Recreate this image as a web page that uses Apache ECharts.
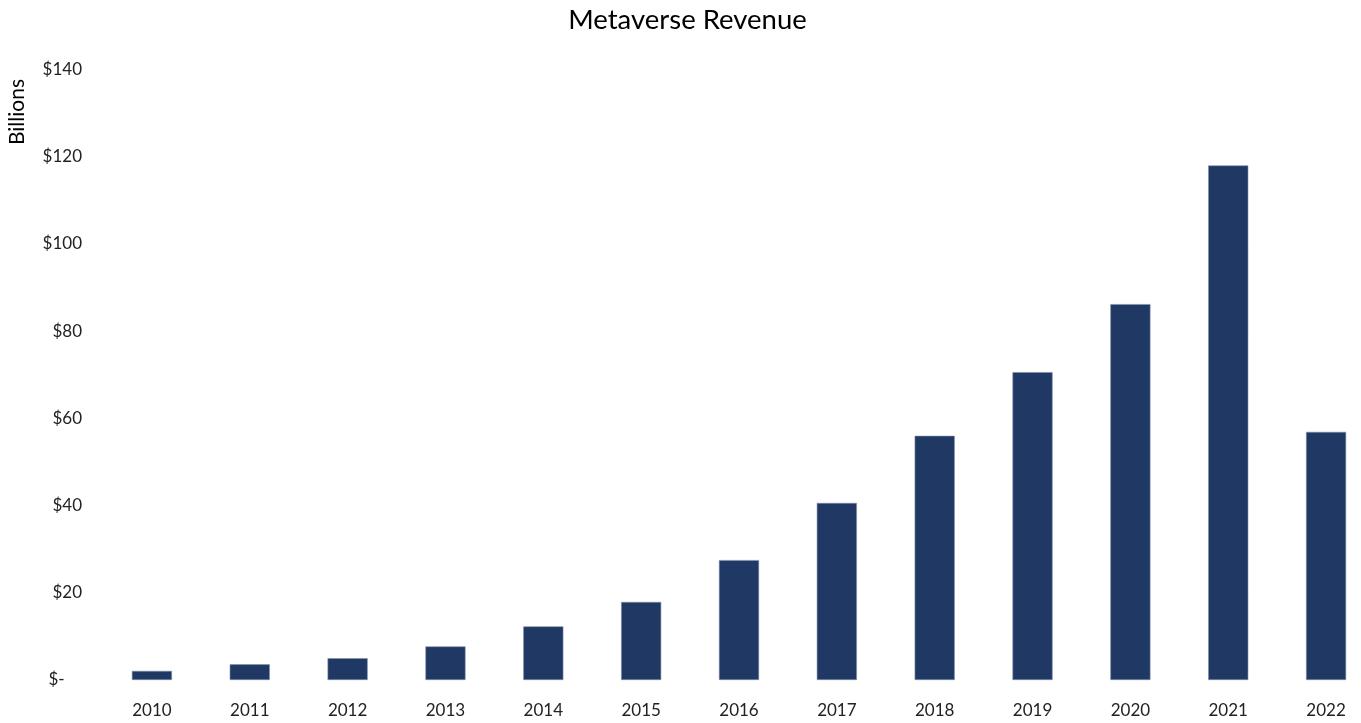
<!DOCTYPE html>
<html>
<head>
<meta charset="utf-8">
<script src="https://cdn.jsdelivr.net/npm/echarts@6/dist/echarts.min.js"></script>
<style>html,body{margin:0;padding:0;background:#fff;overflow:hidden}#c{width:1375px;height:723px}</style>
</head>
<body>
<div id="c"></div>
<script>
const years = ['2010','2011','2012','2013','2014','2015','2016','2017','2018','2019','2020','2021','2022'];
const revenue = [2.1, 3.6, 5.0, 7.7, 12.3, 17.9, 27.5, 40.6, 56.0, 70.6, 86.2, 118.0, 56.9];
const yTicks = { min: 0, max: 140, interval: 20 };
const titleText = 'Metaverse Revenue';
const unitText = 'Billions';

const chart = echarts.init(document.getElementById('c'), null, { renderer: 'canvas' });
const font = 'Lato, "Open Sans", sans-serif';
chart.setOption({
  animation: false,
  backgroundColor: '#ffffff',
  title: {
    text: titleText, left: 'center', top: 1,
    textStyle: { fontFamily: font, fontSize: 27.5, fontWeight: 'normal', color: '#000' }
  },
  graphic: [{
    type: 'text', x: 17, y: 112, rotation: Math.PI / 2,
    style: { text: unitText, font: '21px ' + font, fill: '#000', align: 'center', verticalAlign: 'middle' }
  }],
  grid: { left: 103, right: 0, top: 69.5, bottom: 43, containLabel: false },
  xAxis: {
    type: 'category', data: years,
    axisLine: { show: false }, axisTick: { show: false },
    axisLabel: { fontFamily: font, fontSize: 17, color: '#222', margin: 22 }
  },
  yAxis: {
    type: 'value', min: yTicks.min, max: yTicks.max, interval: yTicks.interval,
    splitLine: { show: false }, axisLine: { show: false }, axisTick: { show: false },
    axisLabel: {
      fontFamily: font, fontSize: 17, color: '#222', margin: 21,
      formatter: v => v === 0 ? '$-    ' : '$' + v
    }
  },
  series: [{
    type: 'bar', data: revenue, barWidth: '41%',
    itemStyle: { color: '#203864', borderColor: '#7f8fa9', borderWidth: 0.6 }
  }]
});
</script>
</body>
</html>
